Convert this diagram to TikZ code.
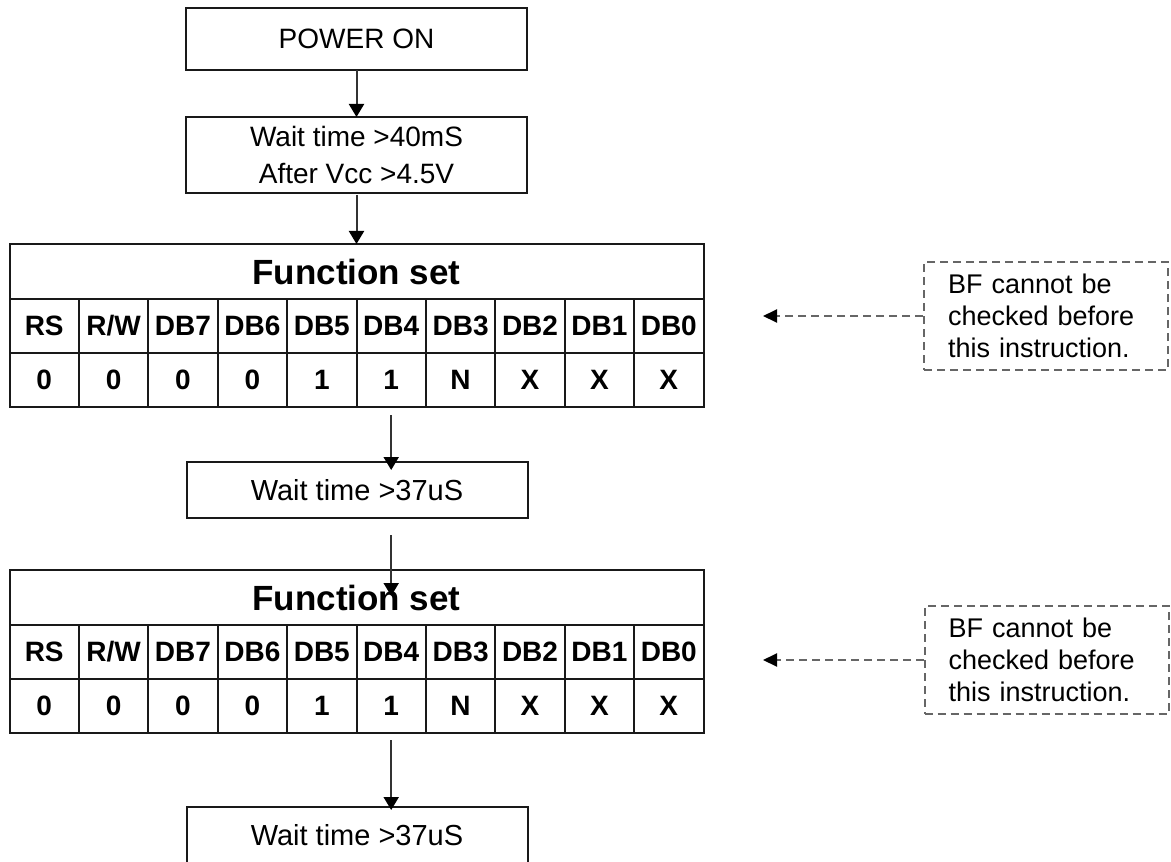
\documentclass[tikz,border=0pt]{standalone}
\usepackage{fontspec}
\setmainfont{Liberation Sans}
\usetikzlibrary{positioning,arrows.meta}

\begin{document}
\begin{tikzpicture}[
        x=0.5pt, y=-0.5pt,
        step_box/.style={rectangle, draw=black!90, line width=1pt, outer sep=0pt, minimum width=170.5pt, align=center, font=\fontsize{14}{18.5}\selectfont},
        title_cell/.style={rectangle, draw=black!90, line width=1pt, outer sep=0pt, minimum width=347pt, minimum height=27.5pt, inner sep=0pt, font=\fontsize{17.5}{20}\selectfont\bfseries},
        bit_cell/.style={rectangle, draw=black!90, line width=1pt, outer sep=0pt, minimum width=34.7pt, minimum height=27pt, inner sep=0pt, font=\fontsize{14}{17}\selectfont\bfseries},
        note_box/.style={rectangle, draw=black!60, line width=1pt, dash pattern=on 4pt off 2.5pt, minimum width=122pt, minimum height=54pt, text width=98pt, align=left, font=\fontsize{13.5}{16}\selectfont},
        flow_arrow/.style={draw=black!80, line width=1pt, -{Triangle[width=7.5pt,length=6.5pt,black]}},
        note_arrow/.style={draw=black!60, line width=1pt, dash pattern=on 4pt off 2.5pt, -{Triangle[width=6.5pt,length=7pt,black]}}
        ]
            \useasboundingbox (0,0) rectangle (1171,861);

            % start
            \node[step_box, minimum height=31pt] (power) at (356.5,39)  {POWER ON};
            \node[step_box, minimum height=38pt] (wait_1) at (356.5,155) {Wait time >40mS\\After Vcc >4.5V};

            % function set 1
            \node[title_cell] (fs_1) at (356.5,271.5) {Function set};
            \foreach \h [count=\i] in {RS,R/W,DB7,DB6,DB5,DB4,DB3,DB2,DB1,DB0}
                \node[bit_cell, anchor=north west] (fs_1_h\i) at ([xshift={(\i-1)*34.7pt}]fs_1.south west) {\h};
            \foreach \v [count=\i] in {0,0,0,0,1,1,N,X,X,X}
                \node[bit_cell, anchor=north] (fs_1_v\i) at (fs_1_h\i.south) {\v};

            \node[step_box, minimum height=28pt, font=\fontsize{14.5}{18}\selectfont] (wait_2) at (357,490) {Wait time >37uS};

            % function set 2
            \node[title_cell] (fs_2) at (356.5,597.5) {Function set};
            \foreach \h [count=\i] in {RS,R/W,DB7,DB6,DB5,DB4,DB3,DB2,DB1,DB0}
                \node[bit_cell, anchor=north west] (fs_2_h\i) at ([xshift={(\i-1)*34.7pt}]fs_2.south west) {\h};
            \foreach \v [count=\i] in {0,0,0,0,1,1,N,X,X,X}
                \node[bit_cell, anchor=north] (fs_2_v\i) at (fs_2_h\i.south) {\v};

            \node[step_box, minimum height=28pt, font=\fontsize{14.5}{18}\selectfont] (wait_3) at (357,835) {Wait time >37uS};

            % notes
            \node[note_box] (note_1) at (1046,316) {BF cannot be checked before this instruction.};
            \node[note_box] (note_2) at (1046.5,660) {BF cannot be checked before this instruction.};
            \coordinate (note_1_tip) at (763,316);
            \coordinate (note_2_tip) at (763,660);

            % Lines
            \draw[flow_arrow] (power.south) -- (wait_1.north);
            \draw[flow_arrow, shorten <=1pt] (wait_1.south) -- (fs_1.north);
            \draw[flow_arrow, shorten <=4pt, shorten >=-4pt] (fs_1_v6.south) -- (fs_1_v6.south |- wait_2.north);
            \draw[flow_arrow, shorten <=8.5pt, shorten >=-13pt] (wait_2.south -| fs_2_v6) -- (fs_2.north -| fs_2_v6);
            \draw[flow_arrow, shorten <=3.5pt, shorten >=-1.5pt] (fs_2_v6.south) -- (fs_2_v6.south |- wait_3.north);
            \draw[note_arrow] (note_1.west) -- (note_1_tip);
            \draw[note_arrow] (note_2.west) -- (note_2_tip);
        \end{tikzpicture}
\end{document}
